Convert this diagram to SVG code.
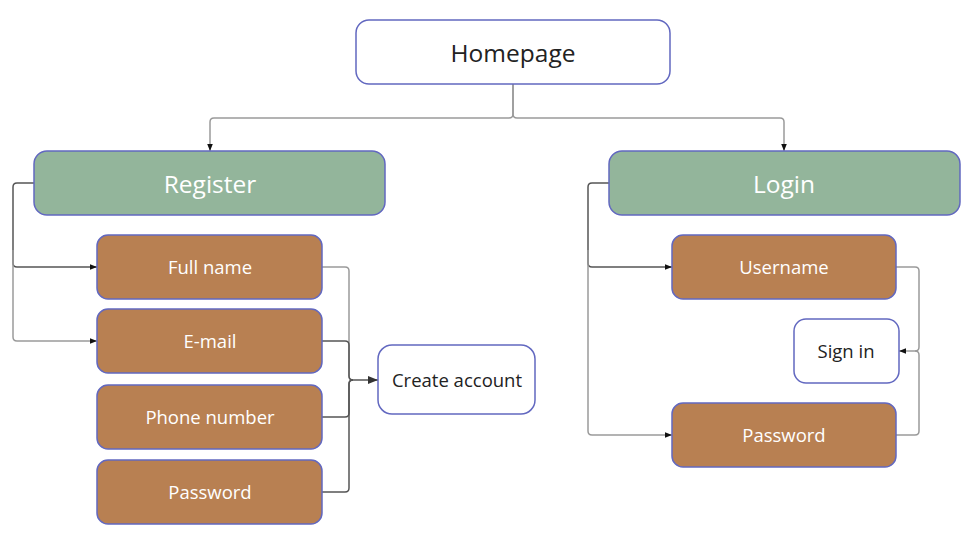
<svg xmlns="http://www.w3.org/2000/svg" width="972" height="542" viewBox="0 0 972 542">
<style>
.box{stroke:#6268c0;stroke-width:1.5}
.w{fill:#ffffff}
.g{fill:#93b59b}
.b{fill:#b88052}
text{font-family:"Open Sans","Liberation Sans",sans-serif;text-anchor:middle;dominant-baseline:central}
.big{font-size:24.5px}
.sm{font-size:18.5px}
.dark{fill:#222}
.lt{fill:#ffffff}
.c{fill:none;stroke:#9a9a9a;stroke-width:1.5}
.cd{fill:none;stroke:#555;stroke-width:1.5}
</style>
<defs>
<marker id="a" viewBox="0 0 10 10" refX="10" refY="5" markerWidth="7" markerHeight="7" orient="auto" markerUnits="userSpaceOnUse">
<path d="M0,1 L10,5 L0,9 z" fill="#111"/>
</marker>
<marker id="a2" viewBox="0 0 10 10" refX="10" refY="5" markerWidth="10" markerHeight="10" orient="auto" markerUnits="userSpaceOnUse">
<path d="M0,1 L10,5 L0,9 z" fill="#333"/>
</marker>
</defs>
<g id="connectors">
<path class="c" d="M513,84 V114 Q513,118 509,118 H214 Q210,118 210,122 V151" marker-end="url(#a)"/>
<path class="c" d="M513,84 V114 Q513,118 517,118 H780 Q784,118 784,122 V151" marker-end="url(#a)"/>
<path class="cd" d="M34,183 H17 Q13,183 13,187 V263 Q13,267 17,267 H97" marker-end="url(#a)"/>
<path class="c" d="M13,250 V337 Q13,341 17,341 H97" marker-end="url(#a)"/>
<path class="c" d="M322,267 H345 Q349,267 349,271 V376 Q349,380 353,380"/>
<path class="cd" d="M322,341 H345 Q349,341 349,345 V376 Q349,380 353,380"/>
<path class="cd" d="M322,417 H345 Q349,417 349,413 V384 Q349,380 353,380"/>
<path class="cd" d="M322,492 H345 Q349,492 349,488 V384 Q349,380 353,380 H378" marker-end="url(#a2)"/>
<path class="cd" d="M609,183 H592 Q588,183 588,187 V263 Q588,267 592,267 H672" marker-end="url(#a)"/>
<path class="c" d="M588,250 V431 Q588,435 592,435 H672" marker-end="url(#a)"/>
<path class="c" d="M896,267 H915 Q919,267 919,271 V347 Q919,351 915,351 H899" marker-end="url(#a)"/>
<path class="c" d="M896,435 H915 Q919,435 919,431 V355 Q919,351 915,351"/>
</g>
<g id="homepage"><rect class="box w" x="356" y="20" width="314" height="64" rx="13"/><text class="big dark" x="513" y="52">Homepage</text></g>
<g id="register"><rect class="box g" x="34" y="151" width="351" height="64" rx="13"/><text class="big lt" x="210" y="183">Register</text></g>
<g id="login"><rect class="box g" x="609" y="151" width="351" height="64" rx="13"/><text class="big lt" x="784" y="183">Login</text></g>
<g id="fullname"><rect class="box b" x="97" y="235" width="225" height="64" rx="11"/><text class="sm lt" x="210" y="266">Full name</text></g>
<g id="email"><rect class="box b" x="97" y="309" width="225" height="64" rx="11"/><text class="sm lt" x="210" y="340">E-mail</text></g>
<g id="phone"><rect class="box b" x="97" y="385" width="225" height="64" rx="11"/><text class="sm lt" x="210" y="416">Phone number</text></g>
<g id="password-reg"><rect class="box b" x="97" y="460" width="225" height="64" rx="11"/><text class="sm lt" x="210" y="491">Password</text></g>
<g id="create-account"><rect class="box w" x="378" y="345" width="157" height="69" rx="14"/><text class="sm dark" x="457" y="379">Create account</text></g>
<g id="username"><rect class="box b" x="672" y="235" width="224" height="64" rx="11"/><text class="sm lt" x="784" y="266">Username</text></g>
<g id="signin"><rect class="box w" x="794" y="319" width="105" height="64" rx="12"/><text class="sm dark" x="846" y="350">Sign in</text></g>
<g id="password-login"><rect class="box b" x="672" y="403" width="224" height="64" rx="11"/><text class="sm lt" x="784" y="434">Password</text></g>
</svg>
